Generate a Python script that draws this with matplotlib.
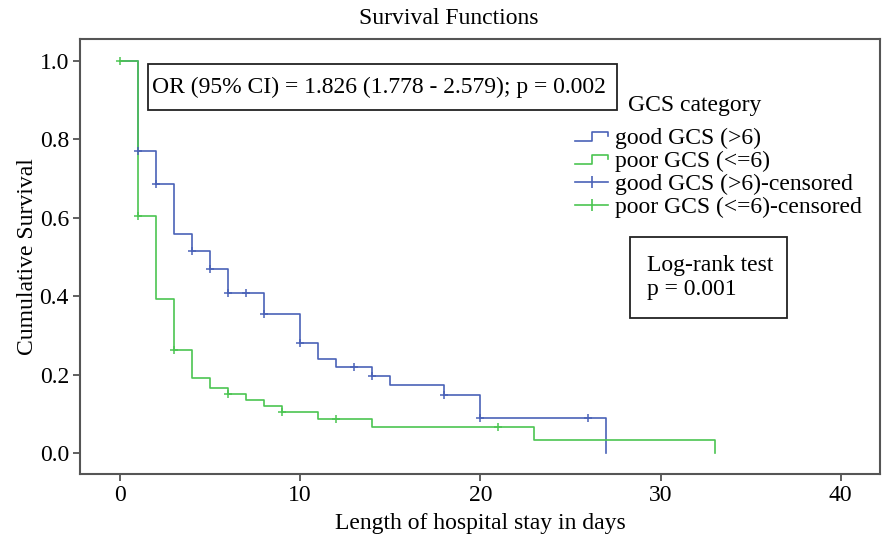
import matplotlib
matplotlib.use("Agg")
import matplotlib.pyplot as plt
from matplotlib.lines import Line2D
from matplotlib.legend_handler import HandlerBase
from matplotlib.patches import Rectangle

plt.rcParams['font.family'] = ['Liberation Serif', 'DejaVu Serif']
plt.rcParams['font.size'] = 17

# Kaplan-Meier steps
good_t = [0, 1, 2, 3, 4, 5, 6, 8, 10, 11, 12, 14, 15, 18, 20, 27]
good_s = [1.0, 0.770, 0.686, 0.558, 0.515, 0.470, 0.408, 0.355, 0.280,
          0.240, 0.219, 0.197, 0.173, 0.148, 0.089, 0.0]
good_cens_t = [1, 2, 4, 5, 6, 7, 8, 10, 13, 14, 18, 20, 26]
good_cens_s = [0.770, 0.686, 0.515, 0.470, 0.408, 0.408, 0.355, 0.280,
               0.219, 0.197, 0.148, 0.089, 0.089]

poor_t = [0, 1, 2, 3, 4, 5, 6, 7, 8, 9, 11, 14, 23, 33]
poor_s = [1.0, 0.604, 0.392, 0.263, 0.193, 0.166, 0.151, 0.136, 0.121,
          0.105, 0.087, 0.066, 0.033, 0.0]
poor_cens_t = [0, 1, 3, 6, 9, 12, 21]
poor_cens_s = [1.0, 0.604, 0.263, 0.151, 0.105, 0.087, 0.066]

labels = ['good GCS (>6)', 'poor GCS (<=6)',
          'good GCS (>6)-censored', 'poor GCS (<=6)-censored']
blue = '#4a62b8'
green = '#4cc552'

W, H = 883, 540


class StepHandler(HandlerBase):
    def create_artists(self, legend, orig_handle, xdescent, ydescent,
                       width, height, fontsize, trans):
        x0, y0 = -xdescent, -ydescent
        xs = [x0, x0 + 0.5 * width, x0 + 0.5 * width, x0 + width, x0 + width]
        ys = [y0 + 0.15 * height, y0 + 0.15 * height, y0 + 0.7 * height,
              y0 + 0.7 * height, y0 + 0.45 * height]
        line = Line2D(xs, ys, color=orig_handle.get_color(),
                      lw=orig_handle.get_linewidth())
        line.set_transform(trans)
        return [line]


fig = plt.figure(figsize=(W / 100, H / 100), dpi=100)
ax = fig.add_axes([80 / W, 66 / H, 800 / W, 435 / H])

g_line, = ax.step(good_t, good_s, where='post', color=blue, lw=1.2)
p_line, = ax.step(poor_t, poor_s, where='post', color=green, lw=1.2)
ax.plot(good_cens_t, good_cens_s, '+', color=blue, ms=6, mew=1.1)
ax.plot(poor_cens_t, poor_cens_s, '+', color=green, ms=6, mew=1.1)

ax.set_xlim(-2.22, 42.18)
ax.set_ylim(-0.053, 1.056)
ax.set_xticks([0, 10, 20, 30, 40])
ax.set_yticks([0.0, 0.2, 0.4, 0.6, 0.8, 1.0])
ax.set_yticklabels(['0.0', '0.2', '0.4', '0.6', '0.8', '1.0'])
ax.tick_params(direction='out', length=5, width=1.2, color='#444444', pad=3)
for sp in ax.spines.values():
    sp.set_color('#555555')
    sp.set_linewidth(1.5)

ax.set_xlabel('Length of hospital stay in days', labelpad=5)
ax.set_ylabel('Cumulative Survival', labelpad=1)
fig.text(448.5 / W, 1 - 18 / H, 'Survival Functions', ha='center', va='center')

# legend
g_c = Line2D([], [], color=blue, lw=1.2, marker='|', ms=9, mew=1.2)
p_c = Line2D([], [], color=green, lw=1.2, marker='|', ms=9, mew=1.2)
fig.text(628 / W, 1 - 105 / H, 'GCS category', ha='left', va='center')
fig.legend([g_line, p_line, g_c, p_c], labels,
           handler_map={g_line: StepHandler(), p_line: StepHandler()},
           loc='upper left', bbox_to_anchor=(575 / W, 1 - 127 / H),
           frameon=False, borderpad=0, borderaxespad=0, numpoints=1,
           handlelength=1.4, handletextpad=0.3, labelspacing=0.07)

# OR box
fig.add_artist(Rectangle((148 / W, 1 - 110 / H), 469 / W, 46 / H,
                         transform=fig.transFigure, fill=False,
                         edgecolor='#222222', lw=1.3))
fig.text(151.5 / W, 1 - 87 / H, 'OR (95% CI) = 1.826 (1.778 - 2.579); p = 0.002',
         ha='left', va='center')

# Log-rank box
fig.add_artist(Rectangle((630 / W, 1 - 318 / H), 157 / W, 81 / H,
                         transform=fig.transFigure, fill=False,
                         edgecolor='#222222', lw=1.3))
fig.text(647 / W, 1 - 277.5 / H, 'Log-rank test\np = 0.001',
         ha='left', va='center', linespacing=1.2)

fig.savefig('out.png', dpi=100)
